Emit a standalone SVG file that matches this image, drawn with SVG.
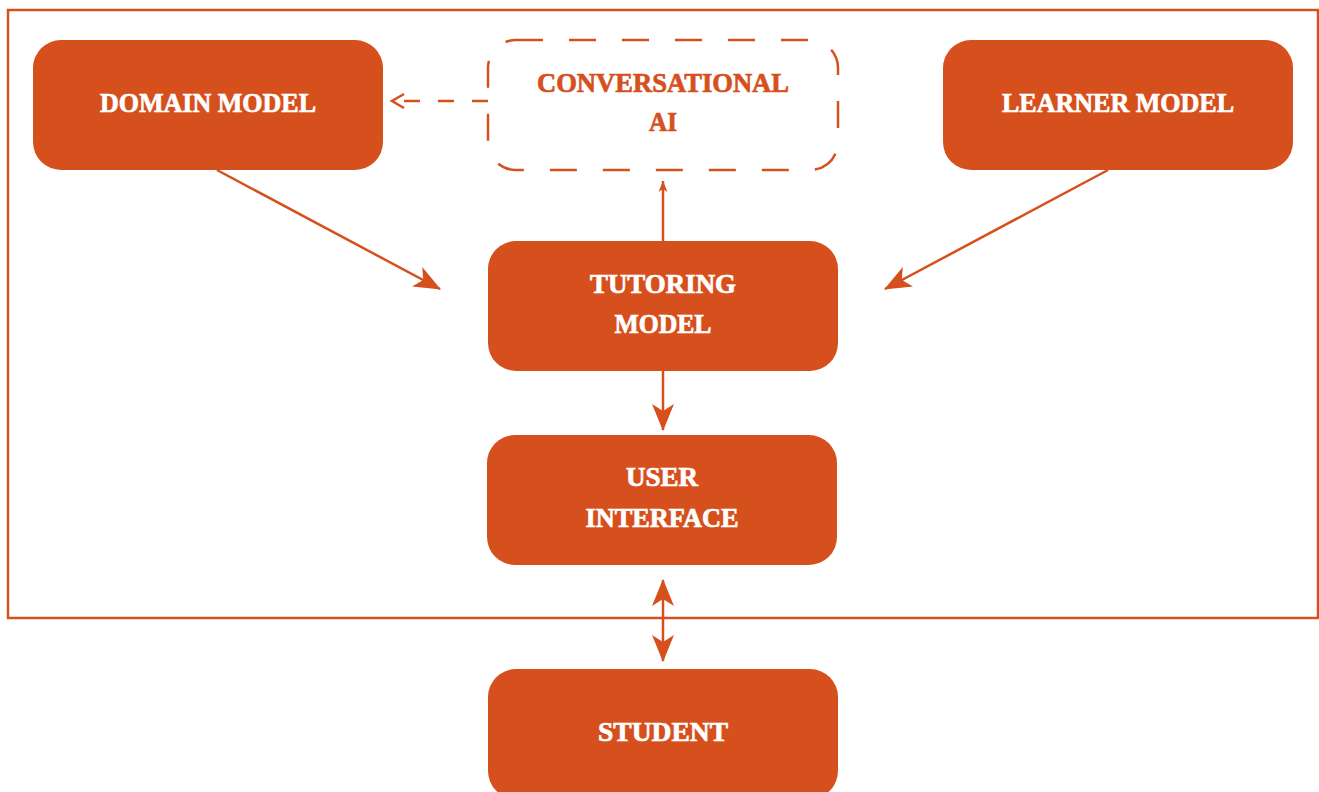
<svg xmlns="http://www.w3.org/2000/svg" width="1319" height="792" viewBox="0 0 1319 792">
<style>
.box{fill:#D6501E}
.dash{fill:none;stroke:#D6501E;stroke-width:2.5;stroke-dasharray:27 26}
.frame{fill:none;stroke:#D6501E;stroke-width:2.5}
.lbl{font-family:"Liberation Serif",serif;font-weight:bold;font-size:27px;fill:#fff;stroke:#fff;stroke-width:0.7;text-anchor:middle}
.lblo{font-family:"Liberation Serif",serif;font-weight:bold;font-size:27px;fill:#D6501E;stroke:#D6501E;stroke-width:0.7;text-anchor:middle}
.con{fill:none;stroke:#D6501E;stroke-width:2.5}
</style>
<defs>
<marker id="ah" markerUnits="userSpaceOnUse" markerWidth="28" markerHeight="24" viewBox="0 0 28 24" refX="26" refY="12" orient="auto-start-reverse">
<path d="M0,1 L27,12 L0,23 L7,12 Z" fill="#D6501E"/>
</marker>
<marker id="ahs" markerUnits="userSpaceOnUse" markerWidth="12" markerHeight="10" viewBox="0 0 12 10" refX="11" refY="5" orient="auto">
<path d="M0,0.5 L11,5 L0,9.5 L3,5 Z" fill="#D6501E"/>
</marker>
<marker id="aho" markerUnits="userSpaceOnUse" markerWidth="20" markerHeight="20" viewBox="0 0 20 20" refX="17" refY="10" orient="auto">
<path d="M5,3 L17,10 L5,17" fill="none" stroke="#D6501E" stroke-width="2.5"/>
</marker>
</defs>
<rect class="frame" x="8" y="10" width="1310" height="608"/>
<g id="connectors">
<line class="con" x1="488" y1="101" x2="392" y2="101" stroke-dasharray="16 18" marker-end="url(#aho)"/>
<line class="con" x1="663" y1="241" x2="663" y2="181" stroke-width="1.5" marker-end="url(#ahs)"/>
<line class="con" x1="217" y1="170" x2="440" y2="289" marker-end="url(#ah)"/>
<line class="con" x1="1108" y1="170" x2="885" y2="289" marker-end="url(#ah)"/>
<line class="con" x1="663" y1="371" x2="663" y2="430" marker-end="url(#ah)"/>
<line class="con" x1="663" y1="580" x2="663" y2="661" marker-start="url(#ah)" marker-end="url(#ah)"/>
</g>
<g id="domain">
<rect class="box" x="33" y="40" width="350" height="130" rx="28"/>
<text class="lbl" x="208" y="112" textLength="216" lengthAdjust="spacingAndGlyphs">DOMAIN MODEL</text>
</g>
<g id="conversational">
<rect class="dash" x="488" y="40" width="350" height="130" rx="28"/>
<text class="lblo" x="663" y="92" textLength="252" lengthAdjust="spacingAndGlyphs">CONVERSATIONAL</text>
<text class="lblo" x="663" y="131" textLength="28" lengthAdjust="spacingAndGlyphs">AI</text>
</g>
<g id="learner">
<rect class="box" x="943" y="40" width="350" height="130" rx="28"/>
<text class="lbl" x="1118" y="112" textLength="232" lengthAdjust="spacingAndGlyphs">LEARNER MODEL</text>
</g>
<g id="tutoring">
<rect class="box" x="488" y="241" width="350" height="130" rx="28"/>
<text class="lbl" x="663" y="293" textLength="146" lengthAdjust="spacingAndGlyphs">TUTORING</text>
<text class="lbl" x="663" y="333" textLength="97" lengthAdjust="spacingAndGlyphs">MODEL</text>
</g>
<g id="ui">
<rect class="box" x="487" y="435" width="350" height="130" rx="28"/>
<text class="lbl" x="662" y="486" textLength="72" lengthAdjust="spacingAndGlyphs">USER</text>
<text class="lbl" x="662" y="527" textLength="153" lengthAdjust="spacingAndGlyphs">INTERFACE</text>
</g>
<g id="student">
<rect class="box" x="488" y="669" width="350" height="130" rx="28"/>
<text class="lbl" x="663" y="741" textLength="130" lengthAdjust="spacingAndGlyphs">STUDENT</text>
</g>
</svg>
